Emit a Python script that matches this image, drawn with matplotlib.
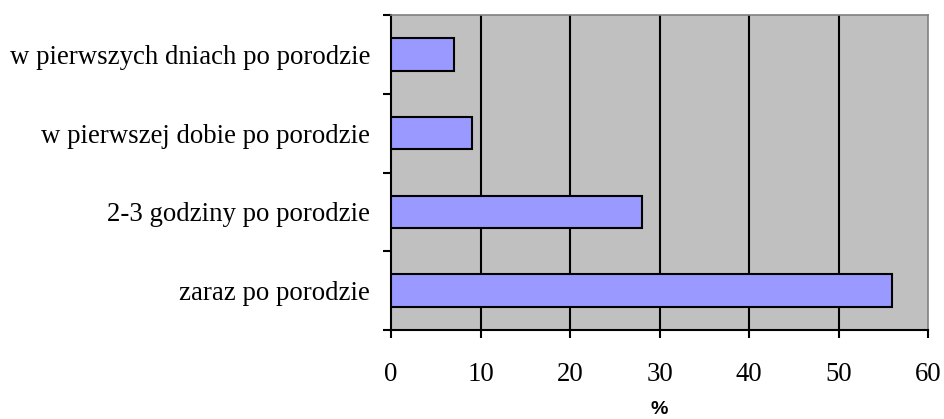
import matplotlib.pyplot as plt
from matplotlib.ticker import FixedLocator

# data, bottom to top as drawn
categories = ['zaraz po porodzie', '2-3 godziny po porodzie',
              'w pierwszej dobie po porodzie', 'w pierwszych dniach po porodzie']
values = [56, 28, 9, 7]
xticks = [0, 10, 20, 30, 40, 50, 60]

fig = plt.figure(figsize=(9.44, 4.19), dpi=100)
ax = fig.add_axes([391/944, 1 - 330/419, (928 - 391)/944, (330 - 15)/419])
ax.set_facecolor('#C0C0C0')

pos = list(range(len(categories)))
ax.barh(pos, values, height=0.41, color='#9999FF', edgecolor='black', linewidth=1.5, zorder=3)

ax.set_xlim(0, 60)
ax.set_ylim(-0.5, len(categories) - 0.5)
ax.set_xticks(xticks)
ax.set_xticklabels([str(t) for t in xticks], fontsize=19.3, family='Liberation Serif')
ax.set_yticks(pos)
ax.set_yticklabels(categories, fontsize=19.3, family='Liberation Serif')
ax.tick_params(axis='y', length=0, pad=15)
# ticks between categories
ax.yaxis.set_minor_locator(FixedLocator([p - 0.5 for p in pos] + [len(pos) - 0.5]))
ax.tick_params(axis='y', which='minor', length=6, width=1.5, direction='out')
ax.tick_params(axis='x', length=6, width=1.5, direction='out', pad=17)

for x in xticks[1:-1]:
    ax.axvline(x, color='black', linewidth=1.5, zorder=2)

for s in ['left', 'bottom']:
    ax.spines[s].set_linewidth(1.5)
for s in ['top', 'right']:
    ax.spines[s].set_color('#808080')
    ax.spines[s].set_linewidth(1.2)

ax.set_xlabel('%', fontsize=14, fontweight='bold', family='Liberation Sans', va='bottom')
ax.xaxis.set_label_coords(0.5, -0.278)

fig.savefig('out.png', dpi=100)
